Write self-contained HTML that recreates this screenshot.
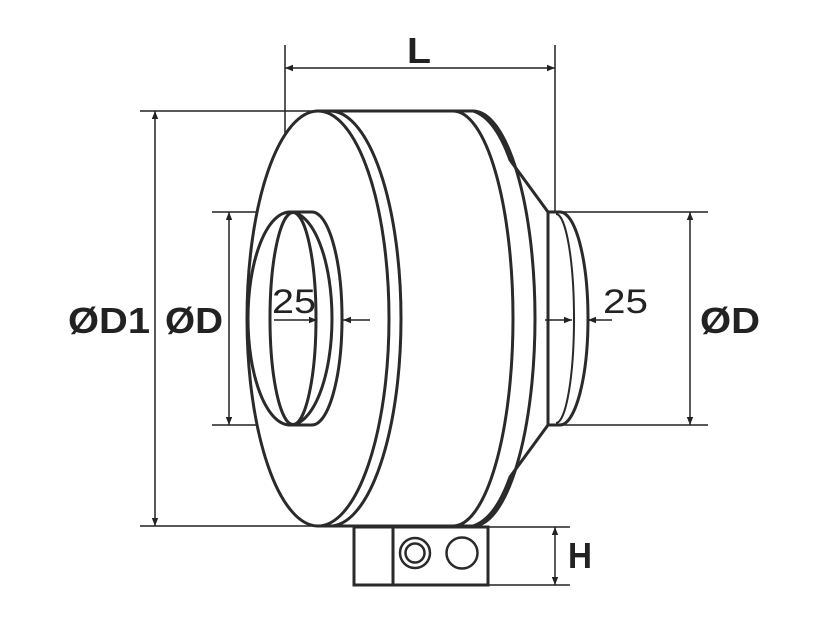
<!DOCTYPE html>
<html><head><style>body{margin:0;background:#fff}svg{display:block}</style></head><body>
<svg width="830" height="622" viewBox="0 0 830 622" xmlns="http://www.w3.org/2000/svg">
<defs>
<marker id="a" viewBox="0 0 10 10" refX="10" refY="5" markerWidth="14" markerHeight="8" orient="auto-start-reverse" markerUnits="userSpaceOnUse"><path d="M0,1 L10,5 L0,9z" fill="#222"/></marker>
</defs>
<g stroke="#222" stroke-width="1.5" fill="none">
<line x1="285" y1="45" x2="285" y2="212"/>
<line x1="555" y1="45" x2="555" y2="212"/>
<line x1="140" y1="111" x2="320" y2="111"/>
<line x1="140" y1="526" x2="354" y2="526"/>
<line x1="212" y1="212" x2="290" y2="212"/>
<line x1="212" y1="425" x2="290" y2="425"/>
<line x1="560" y1="212" x2="708" y2="212"/>
<line x1="560" y1="425" x2="708" y2="425"/>
<line x1="488" y1="527" x2="570" y2="527"/>
<line x1="488" y1="585" x2="570" y2="585"/>
<line x1="285" y1="68" x2="555" y2="68" marker-start="url(#a)" marker-end="url(#a)"/>
<line x1="155" y1="111" x2="155" y2="526" marker-start="url(#a)" marker-end="url(#a)"/>
<line x1="229" y1="212" x2="229" y2="425" marker-start="url(#a)" marker-end="url(#a)"/>
<line x1="690" y1="212" x2="690" y2="425" marker-start="url(#a)" marker-end="url(#a)"/>
<line x1="555" y1="527" x2="555" y2="585" marker-start="url(#a)" marker-end="url(#a)"/>
</g>
<g stroke="#2a2a2a" stroke-width="3" fill="#fff">
<!-- cone -->
<path d="M453,111 L473,111 Q495,118 510,160 L548,212 L548,425 L510,477 Q495,519 473,526 L453,526 Z"/>
<!-- outlet collar -->
<path d="M548,212 L560,212 A28,106.5 0 0 1 560,425 L548,425 Z"/>
<path d="M556,214 A18,104.5 0 0 1 556,423" fill="none" stroke-width="2"/>
<!-- body -->
<path d="M318,111 L453,111 A60,207.5 0 0 1 453,526 L318,526 Z"/>
<path d="M473,111 A62,207.5 0 0 1 473,526" fill="none"/>
<path d="M330,111 A71,207.5 0 0 1 330,526" fill="none"/>
<ellipse cx="318" cy="318.5" rx="71" ry="207.5"/>
<!-- inlet -->
<path d="M290,212 L312,212 A30,106.5 0 0 1 312,425 L290,425 Z"/>
<ellipse cx="290" cy="318.5" rx="42" ry="106.5"/>
<ellipse cx="293" cy="318.5" rx="23" ry="106"/>
<!-- base -->
<rect x="354" y="527" width="134" height="58"/>
<line x1="393" y1="527" x2="393" y2="585"/>
<circle cx="415" cy="553" r="15" stroke-width="2.5"/>
<circle cx="415" cy="553" r="9.5" stroke-width="2.5"/>
<circle cx="462" cy="553" r="15.5" stroke-width="2.5"/>
</g>
<g stroke="#222" stroke-width="1.5" fill="none">
<line x1="274" y1="320" x2="317" y2="320" marker-end="url(#a)"/>
<line x1="343" y1="320" x2="370" y2="320" marker-start="url(#a)"/>
<line x1="545" y1="320" x2="572" y2="320" marker-end="url(#a)"/>
<line x1="588" y1="320" x2="612" y2="320" marker-start="url(#a)"/>
</g>
<g font-family="Liberation Sans, sans-serif" font-size="36" font-weight="bold" fill="#222">
<text x="407" y="63" textLength="24" lengthAdjust="spacingAndGlyphs">L</text>
<text x="68" y="333" textLength="82" lengthAdjust="spacingAndGlyphs">ØD1</text>
<text x="165" y="333" textLength="58" lengthAdjust="spacingAndGlyphs">ØD</text>
<text x="700" y="333" textLength="60" lengthAdjust="spacingAndGlyphs">ØD</text>
<text x="568" y="568" textLength="24" lengthAdjust="spacingAndGlyphs">H</text>
</g>
<g font-family="Liberation Sans, sans-serif" font-size="34" fill="#222">
<text x="272" y="313" textLength="44" lengthAdjust="spacingAndGlyphs">25</text>
<text x="603" y="313" textLength="45" lengthAdjust="spacingAndGlyphs">25</text>
</g>
</svg>
</body></html>
